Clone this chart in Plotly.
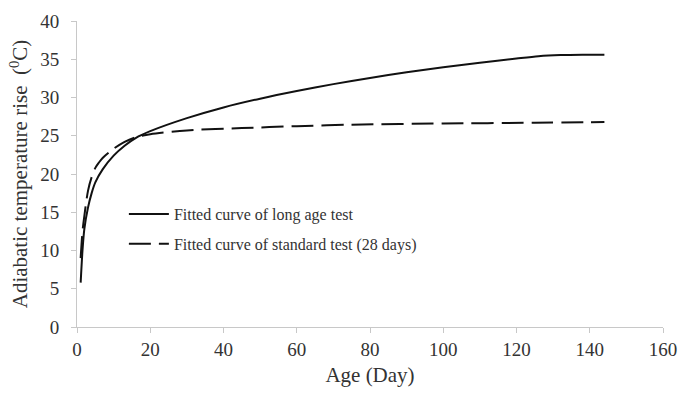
import plotly.graph_objects as go

# Data
long_age_days = [1, 1.5, 2, 3, 4, 5, 7, 10, 13, 16, 20, 30, 40, 50, 60, 70, 80, 90, 100, 110, 120, 126, 132, 138, 144]
long_age_rise = [5.8, 10.0, 12.8, 15.6, 17.5, 18.9, 20.6, 22.4, 23.7, 24.7, 25.6, 27.3, 28.7, 29.85, 30.85, 31.75, 32.55, 33.3, 33.95, 34.55, 35.1, 35.4, 35.55, 35.6, 35.6]

std_days = [1, 1.5, 2, 3, 4, 5, 6, 7, 10, 13, 16, 20, 30, 45, 60, 75, 100, 125, 144]
std_rise = [9.0, 12.5, 14.5, 17.8, 19.6, 20.8, 21.5, 22.1, 23.3, 24.2, 24.8, 25.2, 25.7, 26.0, 26.25, 26.45, 26.6, 26.7, 26.8]

x_ticks = [0, 20, 40, 60, 80, 100, 120, 140, 160]
y_ticks = [0, 5, 10, 15, 20, 25, 30, 35, 40]

serif = "Liberation Serif, Times New Roman, serif"
txt = "#333333"

fig = go.Figure()
fig.add_trace(go.Scatter(
    x=long_age_days, y=long_age_rise, mode="lines",
    name="Fitted curve of long age test", legendgroup="a",
    line=dict(color="#111111", width=2, shape="spline", smoothing=0.8),
))
fig.add_trace(go.Scatter(
    x=std_days, y=std_rise, mode="lines",
    name="Fitted curve of standard test (28 days)", legendgroup="b",
    line=dict(color="#111111", width=2, dash="22px,8px", shape="spline", smoothing=0.8),
))

axis_common = dict(
    showgrid=False, zeroline=False, showline=True, linecolor="#c8c8c8", linewidth=1,
    ticks="outside", tickcolor="#c8c8c8", ticklen=5, tickwidth=1,
    tickfont=dict(family=serif, size=19, color=txt),
)

fig.update_layout(
    width=688, height=394,
    margin=dict(l=77, r=21, t=11, b=67),
    paper_bgcolor="white", plot_bgcolor="white",
    font=dict(family=serif, color=txt),
    xaxis=dict(range=[0, 160], tickvals=x_ticks,
               title=dict(text="Age (Day)", font=dict(family=serif, size=21, color=txt), standoff=8),
               **axis_common),
    yaxis=dict(range=[0, 40], tickvals=y_ticks, ticklabelstandoff=8,
               title=dict(text="Adiabatic temperature rise  (<sup>0</sup>C)", font=dict(family=serif, size=21, color=txt), standoff=6),
               **axis_common),
    showlegend=True,
    legend=dict(x=0.08, y=0.32, xanchor="left", yanchor="middle",
                bgcolor="rgba(0,0,0,0)", font=dict(family=serif, size=16, color=txt),
                tracegroupgap=6, itemwidth=40),
)

fig.write_html("out.html")
